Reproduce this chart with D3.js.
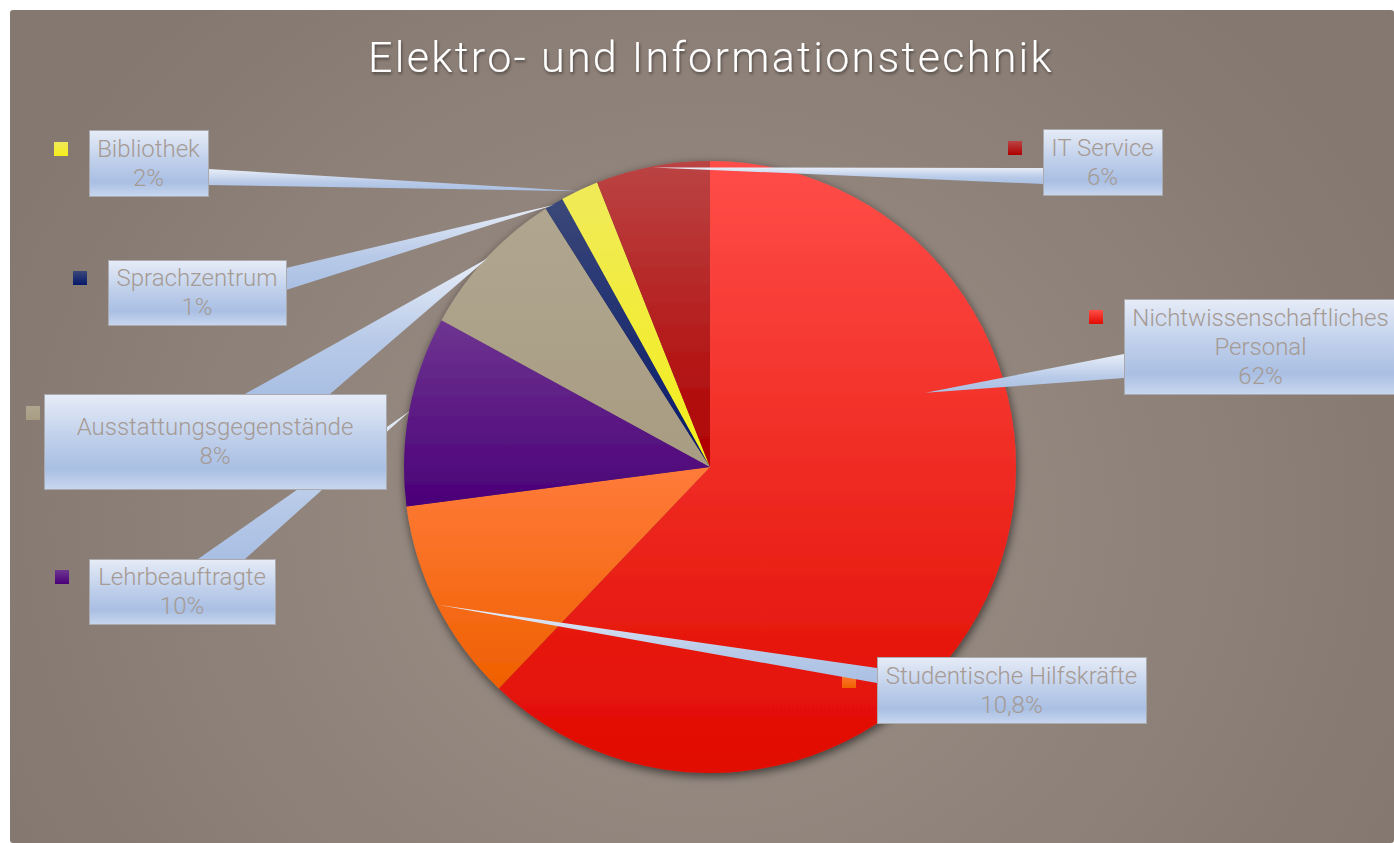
<!DOCTYPE html>
<html><head><meta charset="utf-8">
<script src="https://cdn.jsdelivr.net/npm/d3@7"></script>
<style>html,body{margin:0;padding:0;background:#fff;}svg{display:block;}</style>
</head><body>
<script>
// ---- data ----
const title = "Elektro- und Informationstechnik";
const categories = ["Nichtwissenschaftliches Personal", "Studentische Hilfskräfte", "Lehrbeauftragte", "Ausstattungsgegenstände", "Sprachzentrum", "Bibliothek", "IT Service"];
const labelLines = [["Nichtwissenschaftliches", "Personal"], ["Studentische Hilfskräfte"], ["Lehrbeauftragte"], ["Ausstattungsgegenstände"], ["Sprachzentrum"], ["Bibliothek"], ["IT Service"]];
const values = [62, 10.8, 10, 8, 1, 2, 6];
const valueLabels = ["62%", "10,8%", "10%", "8%", "1%", "2%", "6%"];
const colorsTop = ["#ff4d48", "#ff7b3a", "#6e3590", "#b0a690", "#3a4878", "#f0ea5a", "#bb4444"];
const colorsBottom = ["#e00a00", "#f06000", "#4a0078", "#a89c82", "#06186a", "#f4ee1a", "#b00000"];

// ---- layout (positions only) ----
const W = 1394, H = 843;
const cx = 710, cy = 467, R = 306;
// label boxes: [x, y, w, h]
const boxes = [[1124, 299, 273, 95], [877, 657, 269, 66], [89, 559, 186, 65], [44, 394, 342, 95], [108, 260, 178, 65], [89, 130, 119, 66], [1043, 129, 119, 66]];
// pointer base segments on box edges: [x1,y1,x2,y2]
const bases = [[1124, 354, 1124, 378], [877, 668, 877, 683], [198, 559, 245, 559], [245, 394, 330, 394], [286, 268, 286, 290], [208, 169, 208, 185], [1043, 168, 1043, 184]];
// tip override (angle in degrees clockwise from top, radius fraction), null = slice middle on edge
const tipOverride = [[71, 0.745], null, null, null, null, null, null];
// legend squares top-left
const squares = [[1089, 310], [842, 674], [55, 570], [26, 406], [73, 271], [54, 142], [1008, 141]];

const svg = d3.select("body").append("svg").attr("width", W).attr("height", H);
const defs = svg.append("defs");

const bg = defs.append("radialGradient").attr("id", "bg").attr("gradientUnits", "userSpaceOnUse")
  .attr("cx", 700).attr("cy", 520).attr("r", 760).attr("gradientTransform", "translate(700,520) scale(1,0.9) translate(-700,-520)");
bg.append("stop").attr("offset", 0).attr("stop-color", "#9d9188");
bg.append("stop").attr("offset", 1).attr("stop-color", "#857870");

const boxG = defs.append("linearGradient").attr("id", "boxg").attr("x1", 0).attr("y1", 0).attr("x2", 0).attr("y2", 1);
[[0, "#e6ecf7"], [0.45, "#c0d0eb"], [0.78, "#a9bfe3"], [1, "#c8d7ef"]].forEach(s => boxG.append("stop").attr("offset", s[0]).attr("stop-color", s[1]));
const ptrG = defs.append("linearGradient").attr("id", "ptrg").attr("x1", 0).attr("y1", 0).attr("x2", 0).attr("y2", 1);
[[0, "#e8eef8"], [0.6, "#b8cae8"], [1, "#a9bfe3"]].forEach(s => ptrG.append("stop").attr("offset", s[0]).attr("stop-color", s[1]));

values.forEach((v, i) => {
  const g = defs.append("linearGradient").attr("id", "sg" + i).attr("x1", 0).attr("y1", 0).attr("x2", 0).attr("y2", 1);
  g.append("stop").attr("offset", 0).attr("stop-color", colorsTop[i]);
  g.append("stop").attr("offset", 1).attr("stop-color", colorsBottom[i]);
});

const sh = defs.append("filter").attr("id", "pieShadow").attr("x", "-20%").attr("y", "-20%").attr("width", "140%").attr("height", "140%");
sh.append("feDropShadow").attr("dx", 1).attr("dy", 3).attr("stdDeviation", 5).attr("flood-color", "#000").attr("flood-opacity", 0.6);
const tsh = defs.append("filter").attr("id", "titleShadow").attr("x", "-10%").attr("y", "-30%").attr("width", "120%").attr("height", "160%");
tsh.append("feDropShadow").attr("dx", 1).attr("dy", 2).attr("stdDeviation", 1.5).attr("flood-color", "#000").attr("flood-opacity", 0.45);

svg.append("rect").attr("x", 10).attr("y", 10).attr("width", W - 10).attr("height", H - 10).attr("rx", 3).attr("fill", "url(#bg)");

svg.append("text").attr("x", 711).attr("y", 72).attr("text-anchor", "middle")
  .attr("font-family", "Roboto, 'Open Sans', sans-serif").attr("font-weight", 300).attr("font-size", 43)
  .attr("letter-spacing", 2.3).attr("fill", "#fff").attr("filter", "url(#titleShadow)").text(title);

const pie = d3.pie().sort(null).value(d => d).startAngle(0).endAngle(2 * Math.PI);
const arcs = pie(values);
const arc = d3.arc().innerRadius(0).outerRadius(R);

const pg = svg.append("g").attr("transform", `translate(${cx},${cy})`);
const sliceG = pg.append("g").attr("filter", "url(#pieShadow)");
sliceG.selectAll("path").data(arcs).join("path")
  .attr("d", arc).attr("fill", (d, i) => `url(#sg${i})`);

// legend squares
svg.append("g").selectAll("rect").data(squares).join("rect")
  .attr("x", d => d[0]).attr("y", d => d[1]).attr("width", 14).attr("height", 14)
  .attr("fill", (d, i) => `url(#sg${i})`);

// pointers
function tip(i) {
  const a = arcs[i];
  let ang = (a.startAngle + a.endAngle) / 2, rr = R - 1;
  if (tipOverride[i]) { ang = tipOverride[i][0] * Math.PI / 180; rr = R * tipOverride[i][1]; }
  return [cx + rr * Math.sin(ang), cy - rr * Math.cos(ang)];
}
svg.append("g").selectAll("path").data(arcs).join("path")
  .attr("d", (d, i) => { const t = tip(i), b = bases[i]; return `M${t[0]},${t[1]}L${b[0]},${b[1]}L${b[2]},${b[3]}Z`; })
  .attr("fill", "url(#ptrg)");

// boxes
const lg = svg.append("g");
arcs.forEach((d, i) => {
  const b = boxes[i];
  lg.append("rect").attr("x", b[0] + 0.5).attr("y", b[1] + 0.5).attr("width", b[2]).attr("height", b[3])
    .attr("fill", "url(#boxg)").attr("stroke", "#a9a9ae").attr("stroke-width", 1);
  const lines = labelLines[i].concat([valueLabels[i]]);
  const lh = 29, midY = b[1] + b[3] / 2;
  const t = lg.append("text").attr("text-anchor", "middle")
    .attr("font-family", "Roboto, 'Open Sans', sans-serif").attr("font-weight", 300).attr("font-size", 24)
    .attr("fill", "#a59a94");
  lines.forEach((l, k) => {
    t.append("tspan").attr("x", b[0] + b[2] / 2).attr("y", midY + (k - (lines.length - 1) / 2) * lh).attr("dy", "0.35em").text(l);
  });
});
</script>
</body></html>
